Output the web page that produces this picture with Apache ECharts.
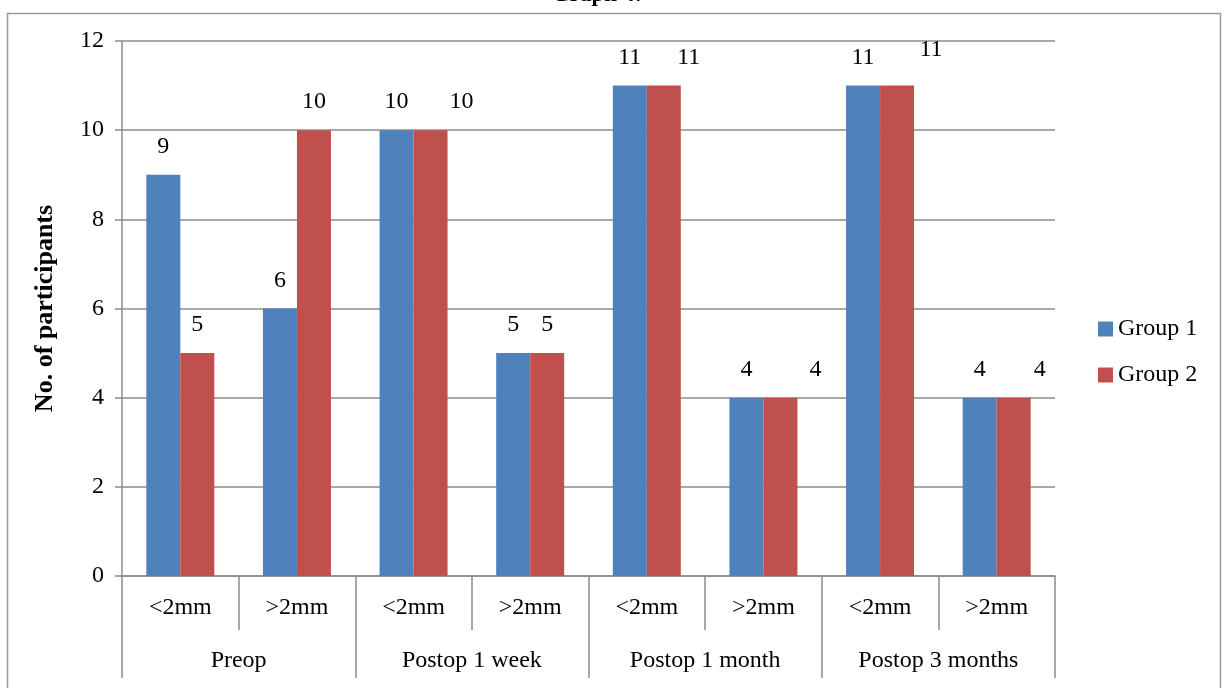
<!DOCTYPE html>
<html>
<head>
<meta charset="utf-8">
<script src="https://cdn.jsdelivr.net/npm/echarts@6/dist/echarts.min.js"></script>
<style>html,body{margin:0;padding:0;background:#fff;}#c{width:1225px;height:688px;}</style>
</head>
<body>
<div id="c"></div>
<script>
const subCategories = ['<2mm', '>2mm', '<2mm', '>2mm', '<2mm', '>2mm', '<2mm', '>2mm'];
const groupCategories = ['Preop', 'Postop 1 week', 'Postop 1 month', 'Postop 3 months'];
const group1 = [9, 6, 10, 5, 11, 4, 11, 4];
const group2 = [5, 10, 10, 5, 11, 4, 11, 4];
const yTicks = { min: 0, max: 12, interval: 2 };

const FONT = 'Liberation Serif';
const FS = 24;
const AXIS_COLOR = '#8c8c8c';
// label placement tweaks for group 2 (as in the picture)
const g2LabelShift = [[0,0],[0,0],[31,0],[0,0],[25,0],[35,0],[34,-8],[26,0]];

const chart = echarts.init(document.getElementById('c'));
chart.setOption({
  animation: false,
  backgroundColor: '#fff',
  title: {
    text: 'Graph 4:', left: 592, top: -21, textAlign: 'center',
    textStyle: { fontFamily: FONT, fontWeight: 'bold', fontSize: 23, color: '#000' }
  },
  graphic: [{
    type: 'rect', left: 5, top: 11, shape: { x: 0, y: 0, width: 1213, height: 700 },
    style: { fill: 'none', stroke: '#9a9a9a', lineWidth: 1.5 }, silent: true
  }],
  legend: {
    orient: 'vertical', left: 1093, top: 312, itemWidth: 15, itemHeight: 15, itemGap: 22,
    icon: 'rect',
    textStyle: { fontFamily: FONT, fontSize: FS, color: '#000' },
    data: ['Group 1', 'Group 2']
  },
  grid: { left: 122, right: 170, top: 41, bottom: 112 },
  xAxis: [{
    type: 'category', data: subCategories, position: 'bottom',
    axisLine: { lineStyle: { color: AXIS_COLOR, width: 1.5 } },
    axisTick: { show: true, interval: 0, length: 54, alignWithLabel: false, lineStyle: { color: AXIS_COLOR, width: 1.5 } },
    axisLabel: { interval: 0, margin: 20, fontFamily: FONT, fontSize: FS, color: '#000' }
  }, {
    type: 'category', data: groupCategories, position: 'bottom',
    axisLine: { show: false },
    axisTick: { show: true, interval: 0, length: 102, lineStyle: { color: AXIS_COLOR, width: 1.5 } },
    axisLabel: { interval: 0, margin: 73, fontFamily: FONT, fontSize: FS, color: '#000' }
  }],
  yAxis: {
    type: 'value', min: yTicks.min, max: yTicks.max, interval: yTicks.interval,
    name: 'No. of participants', nameLocation: 'middle', nameGap: 64, nameRotate: 90,
    nameTextStyle: { fontFamily: FONT, fontWeight: 'bold', fontSize: 26, color: '#000' },
    axisLine: { show: true, lineStyle: { color: AXIS_COLOR, width: 1.5 } },
    axisTick: { show: true, length: 7, lineStyle: { color: AXIS_COLOR, width: 1.5 } },
    splitLine: { lineStyle: { color: AXIS_COLOR, width: 1.5 } },
    axisLabel: { margin: 18, fontFamily: FONT, fontSize: FS, color: '#000' }
  },
  series: [{
    name: 'Group 1', type: 'bar', xAxisIndex: 0, data: group1, barWidth: 34, barGap: '0%',
    itemStyle: { color: '#4F81BD' },
    label: { show: true, position: 'top', distance: 16, fontFamily: FONT, fontSize: FS, color: '#000' }
  }, {
    name: 'Group 2', type: 'bar', xAxisIndex: 0, barWidth: 34, barGap: '0%',
    data: group2.map((v, i) => ({ value: v, label: { offset: g2LabelShift[i] } })),
    itemStyle: { color: '#C0504D' },
    label: { show: true, position: 'top', distance: 16, fontFamily: FONT, fontSize: FS, color: '#000' }
  }]
});
</script>
</body>
</html>
